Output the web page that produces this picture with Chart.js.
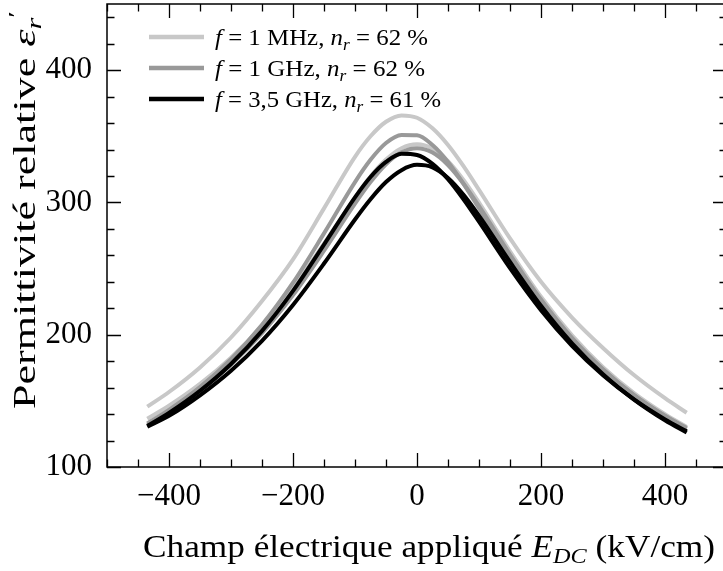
<!DOCTYPE html>
<html>
<head>
<meta charset="utf-8">
<script src="https://cdn.jsdelivr.net/npm/chart.js@4.4.0/dist/chart.umd.min.js"></script>
<style>
  html, body { margin: 0; padding: 0; background: #fff; overflow: hidden; }
  #cadre { width: 723px; height: 571px; overflow: hidden; }
</style>
</head>
<body>
<div id="cadre"><canvas id="chart-permittivite" width="740" height="571"></canvas></div>
<script>
// - - - - - - - - - - Données - - - - - - - - - -

// Champ électrique appliqué (kV/cm)
const champ = [-435, -400, -350, -300, -250, -200, -150, -100, -75, -50, -25, 0, 25, 50, 75, 100, 150, 200, 250, 300, 350, 400, 435];

// f = 1 MHz (deux balayages)
const mhz_aller  = [145.6, 156.7, 175.3, 197.9, 225.5, 257, 295.5, 334.5, 350, 361, 365.8, 364, 356, 343.4, 327.4, 309.5, 272.8, 240, 213, 190, 169.5, 152, 141];
const mhz_retour = [136.5, 146.3, 162.8, 182.7, 206.8, 235.6, 268.9, 303.7, 319.5, 332.4, 341, 344, 340.7, 331.2, 317, 299.9, 263.1, 228.7, 199.5, 175.5, 155.9, 139.9, 130.3];

// f = 1 GHz
const ghz_aller  = [133, 143.2, 160.4, 181.5, 207.5, 239.3, 276.6, 315.4, 332.2, 344.9, 351, 350.8, 343.4, 330.6, 314.1, 295.6, 258.1, 224.5, 196.3, 173.2, 154.3, 138.7, 129.5];
const ghz_retour = [132, 141.6, 157.7, 177.3, 201.1, 229.9, 263.5, 299.1, 315.4, 328.9, 337.9, 341, 337.7, 328.3, 314.2, 297.2, 260.6, 226.6, 197.6, 173.9, 154.4, 138.5, 129];

// f = 3,5 GHz
const ghz35_aller  = [131, 140.9, 157.6, 177.9, 202.9, 233.1, 268.1, 303.8, 319.2, 330.6, 336.8, 335.9, 329.2, 317.6, 302.4, 285.4, 250.3, 218.5, 191.6, 169.4, 151.1, 136, 127];
const ghz35_retour = [130.5, 138.7, 154.2, 172.8, 195.4, 222.5, 253.8, 287.1, 302.4, 315.4, 324.4, 328.4, 326.5, 318.5, 305.8, 290, 255, 221.9, 193.5, 170.1, 151, 135.3, 126];

// Graduations
const ticks_x = [-400, -200, 0, 200, 400];
const ticks_y = [100, 200, 300, 400];

const police = '"Liberation Serif", "DejaVu Serif", serif';
const gris_clair = '#c8c8c8';
const gris = '#999999';
const noir = '#000000';

// Légende : morceaux de texte (it = italique, sub = indice)
const legende = [
    { couleur: gris_clair, largeur: 213, texte: [{t: 'f', it: true}, {t: ' = 1 MHz, '}, {t: 'n', it: true}, {t: 'r', it: true, sub: true}, {t: ' = 62 %'}] },
    { couleur: gris,       largeur: 210, texte: [{t: 'f', it: true}, {t: ' = 1 GHz, '}, {t: 'n', it: true}, {t: 'r', it: true, sub: true}, {t: ' = 62 %'}] },
    { couleur: noir,       largeur: 226, texte: [{t: 'f', it: true}, {t: ' = 3,5 GHz, '}, {t: 'n', it: true}, {t: 'r', it: true, sub: true}, {t: ' = 61 %'}] }
];

function points(valeurs) {
    return champ.map((x, i) => ({x: x, y: valeurs[i]}));
}

// Écrit un texte avec italiques / indices, étiré à la largeur voulue
function texteRiche(ctx, morceaux, x, y, taille, align, largeur) {
    const fonte = m => (m.it ? 'italic ' : '') + Math.round(m.sub || m.sup ? taille * 0.7 : taille) + 'px ' + police;
    let total = 0;
    morceaux.forEach(m => { ctx.font = fonte(m); total += ctx.measureText(m.t).width; });
    const sx = largeur ? largeur / total : 1;
    ctx.save();
    ctx.translate(x, y);
    ctx.scale(sx, 1);
    let cx = align === 'center' ? -total / 2 : 0;
    morceaux.forEach(m => {
        ctx.font = fonte(m);
        let dy = 0;
        if (m.sub) dy = taille * 0.2;
        if (m.sup) dy = -taille * 0.38;
        ctx.fillText(m.t, cx, dy);
        cx += ctx.measureText(m.t).width;
    });
    ctx.restore();
}

// Cadre + graduations vers l'intérieur
const cadre_ticks = {
    id: 'cadre_ticks',
    afterDraw(chart) {
        const {ctx, chartArea: a, scales: {x, y}} = chart;
        ctx.save();
        ctx.strokeStyle = '#000';
        ctx.lineWidth = 1.5;
        ctx.strokeRect(a.left, a.top, a.right - a.left, a.bottom - a.top);
        ctx.lineWidth = 1.3;
        ctx.beginPath();
        for (let v = -500; v <= 500; v += 50) {
            const px = Math.round(x.getPixelForValue(v)) + 0.5;
            const l = (v % 200 === 0) ? 14 : 7.5;
            ctx.moveTo(px, a.bottom); ctx.lineTo(px, a.bottom - l);
            ctx.moveTo(px, a.top); ctx.lineTo(px, a.top + l);
        }
        for (let v = 100; v <= 450; v += 20) {
            const py = Math.round(y.getPixelForValue(v)) + 0.5;
            const l = (v % 100 === 0) ? 14 : 7.5;
            ctx.moveTo(a.left, py); ctx.lineTo(a.left + l, py);
            ctx.moveTo(a.right, py); ctx.lineTo(a.right - l, py);
        }
        ctx.stroke();

        // Titres des axes
        ctx.fillStyle = '#000';
        ctx.textBaseline = 'alphabetic';
        texteRiche(ctx, [{t: 'Champ électrique appliqué '}, {t: 'E', it: true}, {t: 'DC', it: true, sub: true}, {t: ' (kV/cm)'}], 429, 557, 32, 'center', 572);
        ctx.save();
        ctx.translate(35, 210);
        ctx.rotate(-Math.PI / 2);
        texteRiche(ctx, [{t: 'Permittivité relative '}, {t: 'ε', it: true}, {t: 'r', it: true, sub: true}, {t: '′', sup: true}], 0, 0, 32, 'center', 398);
        ctx.restore();

        // Légende
        legende.forEach((item, i) => {
            const ly = 37 + i * 31;
            ctx.strokeStyle = item.couleur;
            ctx.lineWidth = 4.5;
            ctx.beginPath();
            ctx.moveTo(149, ly); ctx.lineTo(204, ly);
            ctx.stroke();
            texteRiche(ctx, item.texte, 215, ly + 8, 23, 'left', item.largeur);
        });
        ctx.restore();
    }
};

const ctx_permittivite = document.getElementById('chart-permittivite').getContext('2d');

const serie = (valeurs, couleur, ordre) => ({
    data: points(valeurs),
    borderColor: couleur,
    borderWidth: 4,
    pointRadius: 0,
    fill: false,
    cubicInterpolationMode: 'monotone',
    order: ordre
});

const chart_permittivite = new Chart(ctx_permittivite, {
    type: 'line',
    data: {
        datasets: [
            serie(mhz_aller, gris_clair, 2),
            serie(mhz_retour, gris_clair, 2),
            serie(ghz_aller, gris, 1),
            serie(ghz_retour, gris, 1),
            serie(ghz35_aller, noir, 0),
            serie(ghz35_retour, noir, 0)
        ]
    },
    options: {
        responsive: false,
        animation: false,
        layout: { padding: { top: 4, right: 13, left: 0, bottom: 0 } },
        plugins: { legend: { display: false }, tooltip: { enabled: false } },
        scales: {
            x: {
                type: 'linear',
                min: -500,
                max: 500,
                afterBuildTicks: s => { s.ticks = ticks_x.map(v => ({value: v})); },
                afterFit: s => { s.height = 104; s.paddingLeft = 0; s.paddingRight = 0; },
                grid: { display: false, drawTicks: false },
                border: { display: false },
                ticks: {
                    padding: 11,
                    color: '#000',
                    font: { family: police, size: 31 },
                    callback: v => v < 0 ? '\u2212' + Math.abs(v) : '' + v
                }
            },
            y: {
                type: 'linear',
                min: 100,
                max: 450,
                afterBuildTicks: s => { s.ticks = ticks_y.map(v => ({value: v})); },
                afterFit: s => { s.width = 107; s.paddingTop = 0; s.paddingBottom = 0; },
                grid: { display: false, drawTicks: false },
                border: { display: false },
                ticks: {
                    padding: 15,
                    color: '#000',
                    font: { family: police, size: 31 }
                }
            }
        }
    },
    plugins: [cadre_ticks]
});
</script>
</body>
</html>
